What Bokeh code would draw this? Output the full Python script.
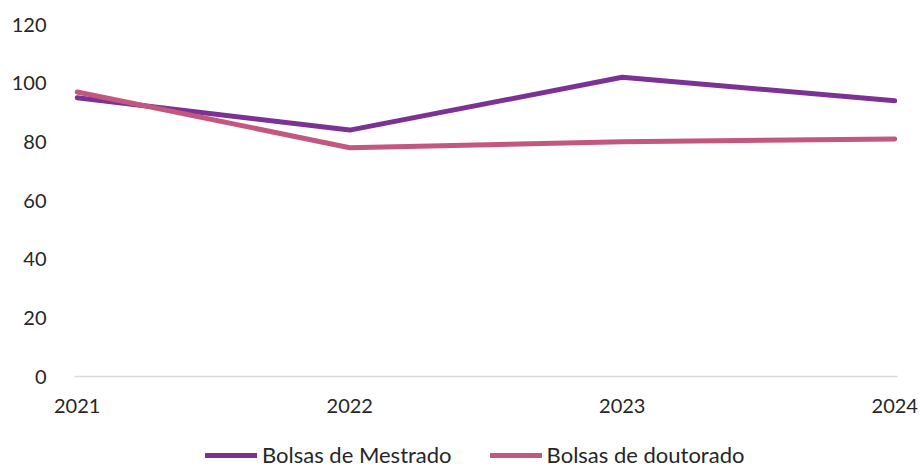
from bokeh.plotting import figure
from bokeh.models import Range1d, FixedTicker, Legend, LegendItem
from bokeh.layouts import column
from bokeh.embed import file_html
from bokeh.resources import INLINE

years = [2021, 2022, 2023, 2024]
mestrado = [95, 84, 102, 94]
doutorado = [97, 78, 80, 81]
y_ticks = [0, 20, 40, 60, 80, 100, 120]
series_names = ["Bolsas de Mestrado", "Bolsas de doutorado"]
colors = ["#7B3294", "#C2577F"]

FONT = "Lato"
TXT = "#262626"

p = figure(width=924, height=440, output_backend="svg", toolbar_location=None,
           x_range=Range1d(2020.99, 2024.01), y_range=Range1d(0, 120),
           min_border_left=74, min_border_right=27, min_border_top=24,
           min_border_bottom=64)
p.outline_line_color = None
p.background_fill_color = "white"
p.border_fill_color = "white"

p.line(years, mestrado, line_color=colors[0], line_width=5, line_cap="round", line_join="round")
p.line(years, doutorado, line_color=colors[1], line_width=5, line_cap="round", line_join="round")

p.xgrid.visible = False
p.ygrid.visible = False

p.xaxis.ticker = FixedTicker(ticks=years)
p.xaxis.axis_line_color = "#D9D9D9"
p.xaxis.axis_line_width = 1.5
p.xaxis.major_tick_line_color = None
p.xaxis.minor_tick_line_color = None
p.xaxis.major_label_standoff = 16
p.xaxis.major_label_text_font = FONT
p.xaxis.major_label_text_font_size = "20px"
p.xaxis.major_label_text_color = TXT

p.yaxis.ticker = FixedTicker(ticks=y_ticks)
p.yaxis.axis_line_color = None
p.yaxis.major_tick_line_color = None
p.yaxis.minor_tick_line_color = None
p.yaxis.major_label_standoff = 22
p.yaxis.major_label_text_font = FONT
p.yaxis.major_label_text_font_size = "20px"
p.yaxis.major_label_text_color = TXT

# legend strip below the chart (its lines lie outside its own ranges, only the legend shows)
p2 = figure(width=924, height=28, output_backend="svg", toolbar_location=None,
            x_range=Range1d(0, 1), y_range=Range1d(0, 1),
            min_border_left=0, min_border_right=0, min_border_top=0, min_border_bottom=0)
p2.axis.visible = False
p2.grid.visible = False
p2.outline_line_color = None
p2.background_fill_color = "white"
l1 = p2.line(years, mestrado, line_color=colors[0], line_width=5, line_cap="round")
l2 = p2.line(years, doutorado, line_color=colors[1], line_width=5, line_cap="round")

legend = Legend(items=[LegendItem(label=series_names[0], renderers=[l1]),
                       LegendItem(label=series_names[1], renderers=[l2])],
                orientation="horizontal", location=(131, 0),
                glyph_width=52, glyph_height=20, label_height=20, label_standoff=5, spacing=38,
                label_text_font=FONT, label_text_font_size="22px", label_text_color=TXT,
                border_line_color=None, background_fill_alpha=0, padding=2, margin=0)
p2.add_layout(legend, "center")

layout = column(p, p2, spacing=0)
open("out.html", "w").write(file_html(layout, INLINE))
